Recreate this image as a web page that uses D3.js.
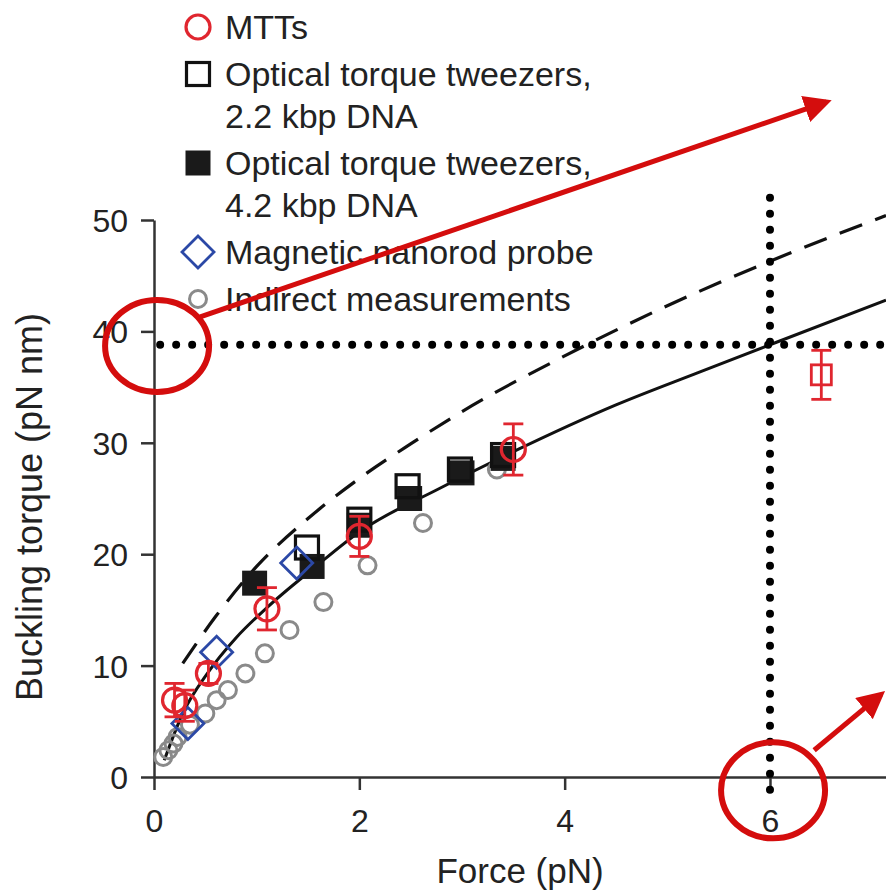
<!DOCTYPE html>
<html>
<head>
<meta charset="utf-8">
<script src="https://d3js.org/d3.v7.min.js"></script>
<style>
  body { margin: 0; background: #fff; }
  svg text { font-family: "Liberation Sans", Arial, sans-serif; fill: #222; }
</style>
</head>
<body>
<svg id="chart" width="886" height="892"></svg>
<script>
// values (Force pN, torque pN nm)
var solidCurve = [[0.1,1.5],[0.28,5.7],[0.52,9.3],[0.8,12.5],[1.1,15.2],[1.55,18.7],[2.0,22.0],[2.78,25.9],[3.5,29.2],[4.5,33.4],[5.3,36.3],[6.0,38.8],[7.13,42.8]];
var dashedCurve = [[0.28,10.2],[0.6,14.4],[1.0,18.9],[1.5,23.2],[2.0,26.8],[2.5,29.9],[3.0,32.8],[4.0,37.8],[5.0,42.3],[6.0,46.3],[7.13,50.4]];
var mtts = [[0.2,6.9,1.5],[0.3,6.4,1.4],[0.53,9.3,0.9],[1.1,15.1,1.9],[2.0,21.6,1.8],[3.5,29.4,2.3]];
var mttsSquare = [[6.5,36.1,2.2]];
var ott22 = [[1.49,20.6],[2.0,23.1],[2.47,26.1],[2.98,27.6],[3.4,28.9]];
var ott42 = [[0.98,17.4],[1.54,18.9],[2.0,22.6],[2.49,25.0],[3.0,27.3],[3.4,28.6]];
var nanorod = [[0.33,4.8],[0.61,11.2],[1.39,19.2]];
var indirect = [[0.09,1.8],[0.14,2.4],[0.19,3.0],[0.23,3.6],[0.35,4.7],[0.5,5.7],[0.61,6.9],[0.72,7.8],[0.89,9.3],[1.08,11.1],[1.32,13.2],[1.65,15.7],[2.08,19.0],[2.62,22.8],[3.34,27.6]];
var xTicks = [0,2,4,6];
var yTicks = [0,10,20,30,40,50];
var legendItems = [
  {type: "mtts", lines: ["MTTs"]},
  {type: "ott22", lines: ["Optical torque tweezers,", "2.2 kbp DNA"]},
  {type: "ott42", lines: ["Optical torque tweezers,", "4.2 kbp DNA"]},
  {type: "nanorod", lines: ["Magnetic nanorod probe"]},
  {type: "indirect", lines: ["Indirect measurements"]}
];

var red = "#e0262f", blue = "#2b48a6", grey = "#8a8a8a", annot = "#d40d0d";
var svg = d3.select("#chart");
var x = d3.scaleLinear().domain([0, 7.13]).range([154, 886]);
var y = d3.scaleLinear().domain([0, 50]).range([777, 220]);

// axes
var xAxis = svg.append("g").attr("transform", "translate(0," + y(0) + ")")
  .call(d3.axisBottom(x).tickValues(xTicks).tickSize(13).tickPadding(20).tickSizeOuter(0));
var yAxis = svg.append("g").attr("transform", "translate(" + x(0) + ",0)")
  .call(d3.axisLeft(y).tickValues(yTicks).tickSize(13).tickPadding(13).tickSizeOuter(0));
[xAxis, yAxis].forEach(function (a) {
  a.select(".domain").attr("stroke", "#333").attr("stroke-width", 2.5);
  a.selectAll(".tick line").attr("stroke", "#333").attr("stroke-width", 2.5);
  a.selectAll(".tick text").style("font-size", "32px").attr("fill", "#333");
});
xAxis.selectAll(".tick text").attr("dy", "0").attr("y", 55);
yAxis.selectAll(".tick text").attr("dy", "0.36em");

svg.append("text").attr("x", 520).attr("y", 883).attr("text-anchor", "middle")
  .style("font-size", "35px").attr("fill", "#333").text("Force (pN)");
svg.append("text").attr("transform", "translate(42,507) rotate(-90)").attr("text-anchor", "middle")
  .style("font-size", "36px").attr("fill", "#333").text("Buckling torque (pN nm)");

// curves
var line = d3.line().x(function (d) { return x(d[0]); }).y(function (d) { return y(d[1]); }).curve(d3.curveMonotoneX);
svg.append("path").datum(dashedCurve).attr("d", line).attr("fill", "none")
  .attr("stroke", "#111").attr("stroke-width", 3.2).attr("stroke-dasharray", "24,14");
svg.append("path").datum(solidCurve).attr("d", line).attr("fill", "none")
  .attr("stroke", "#111").attr("stroke-width", 3);

// markers
function drawMarker(g, type, cx, cy) {
  if (type == "mtts") {
    g.append("circle").attr("cx", cx).attr("cy", cy).attr("r", 12).attr("fill", "none").attr("stroke", red).attr("stroke-width", 3.2);
  } else if (type == "ott22") {
    g.append("rect").attr("x", cx - 11.5).attr("y", cy - 11.5).attr("width", 23).attr("height", 23).attr("fill", "none").attr("stroke", "#111").attr("stroke-width", 3.2);
  } else if (type == "ott42") {
    g.append("rect").attr("x", cx - 12.5).attr("y", cy - 12.5).attr("width", 25).attr("height", 25).attr("fill", "#1a1a1a");
  } else if (type == "nanorod") {
    g.append("path").attr("d", "M" + cx + "," + (cy - 16) + "L" + (cx + 16) + "," + cy + "L" + cx + "," + (cy + 16) + "L" + (cx - 16) + "," + cy + "Z")
      .attr("fill", "none").attr("stroke", blue).attr("stroke-width", 2.8);
  } else if (type == "indirect") {
    g.append("circle").attr("cx", cx).attr("cy", cy).attr("r", 8.5).attr("fill", "none").attr("stroke", grey).attr("stroke-width", 3);
  }
}
function errBar(g, d) {
  var cx = x(d[0]);
  g.append("line").attr("x1", cx).attr("x2", cx).attr("y1", y(d[1] - d[2])).attr("y2", y(d[1] + d[2])).attr("stroke", red).attr("stroke-width", 2.8);
  [d[1] - d[2], d[1] + d[2]].forEach(function (v) {
    g.append("line").attr("x1", cx - 10).attr("x2", cx + 10).attr("y1", y(v)).attr("y2", y(v)).attr("stroke", red).attr("stroke-width", 2.8);
  });
}
var pts = svg.append("g");
indirect.forEach(function (d) { drawMarker(pts, "indirect", x(d[0]), y(d[1])); });
ott42.forEach(function (d) { drawMarker(pts, "ott42", x(d[0]), y(d[1])); });
ott22.forEach(function (d) { drawMarker(pts, "ott22", x(d[0]), y(d[1])); });
nanorod.forEach(function (d) { drawMarker(pts, "nanorod", x(d[0]), y(d[1])); });
mtts.forEach(function (d) { errBar(pts, d); drawMarker(pts, "mtts", x(d[0]), y(d[1])); });
mttsSquare.forEach(function (d) {
  errBar(pts, d);
  pts.append("rect").attr("x", x(d[0]) - 10).attr("y", y(d[1]) - 10).attr("width", 20).attr("height", 20)
    .attr("fill", "none").attr("stroke", red).attr("stroke-width", 2.8);
});

// legend
var lg = svg.append("g");
var ly = 27;
legendItems.forEach(function (item) {
  drawMarker(lg, item.type, 198, ly);
  item.lines.forEach(function (t, i) {
    lg.append("text").attr("x", 225).attr("y", ly + i * 42).attr("dy", "0.36em")
      .style("font-size", "34px").text(t);
  });
  ly += item.lines.length * 42 + 5;
});

// annotations drawn over the figure
var ann = svg.append("g");
ann.append("line").attr("x1", x(0.06)).attr("x2", 886).attr("y1", y(38.8)).attr("y2", y(38.8))
  .attr("stroke", "#000").attr("stroke-width", 8).attr("stroke-linecap", "round").attr("stroke-dasharray", "0,16");
ann.append("line").attr("x1", x(6)).attr("x2", x(6)).attr("y1", y(52)).attr("y2", y(-1.2))
  .attr("stroke", "#000").attr("stroke-width", 8).attr("stroke-linecap", "round").attr("stroke-dasharray", "0,16");
ann.append("ellipse").attr("cx", x(0.03)).attr("cy", y(38.7)).attr("rx", 52).attr("ry", 46)
  .attr("fill", "none").attr("stroke", annot).attr("stroke-width", 6);
ann.append("ellipse").attr("cx", x(6.03)).attr("cy", y(-1.2)).attr("rx", 52).attr("ry", 48)
  .attr("fill", "none").attr("stroke", annot).attr("stroke-width", 6);
svg.append("defs").append("marker").attr("id", "ah").attr("viewBox", "0 0 10 10").attr("refX", 8).attr("refY", 5)
  .attr("markerWidth", 5.5).attr("markerHeight", 5.5).attr("orient", "auto")
  .append("path").attr("d", "M0,0L10,5L0,10Z").attr("fill", annot);
ann.append("line").attr("x1", x(0.45)).attr("y1", y(41.3)).attr("x2", x(6.55)).attr("y2", y(60.6))
  .attr("stroke", annot).attr("stroke-width", 5).attr("marker-end", "url(#ah)");
ann.append("line").attr("x1", x(6.43)).attr("y1", y(2.4)).attr("x2", x(7.08)).attr("y2", y(7.4))
  .attr("stroke", annot).attr("stroke-width", 5).attr("marker-end", "url(#ah)");
</script>
</body>
</html>
